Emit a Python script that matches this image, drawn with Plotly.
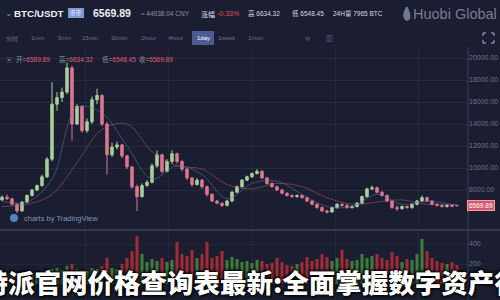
import plotly.graph_objects as go

# ---------------- data ----------------
idx = list(range(92))
open_ = [7100, 7350, 7200, 6700, 6100, 6900, 7500, 8000, 8400, 9200,
         10800, 15800, 16400, 16900, 19100, 14000, 15600, 13400, 14200, 16200,
         16600, 14000, 11200, 11900, 12100, 11100, 10100, 8300, 7400, 8400,
         8700, 10200, 11200, 9700, 10600, 11300, 10600, 9900, 9100, 8500,
         8900, 8300, 7600, 7000, 6800, 6600, 7000, 7800, 8300, 8900,
         9200, 9500, 9700, 9100, 8600, 8300, 8000, 7700, 7500, 7400,
         7500, 7300, 7000, 6700, 6400, 6100, 6000, 6400, 6700, 6600,
         6400, 6500, 6800, 7400, 8100, 8200, 7800, 7500, 7000, 6400,
         6300, 6500, 6400, 6700, 7000, 7300, 7000, 6700, 6600, 6500,
         6600, 6589.89]
close = [7350, 7200, 6700, 6100, 6900, 7500, 8000, 8400, 9200, 10800,
         15800, 16400, 16900, 19100, 14000, 15600, 13400, 14200, 16200, 16600,
         14000, 11200, 11900, 12100, 11100, 10100, 8300, 7400, 8400, 8700,
         10200, 11200, 9700, 10600, 11300, 10600, 9900, 9100, 8500, 8900,
         8300, 7600, 7000, 6800, 6600, 7000, 7800, 8300, 8900, 9200,
         9500, 9700, 9100, 8600, 8300, 8000, 7700, 7500, 7400, 7500,
         7300, 7000, 6700, 6400, 6100, 6000, 6400, 6700, 6600, 6400,
         6500, 6800, 7400, 8100, 8200, 7800, 7500, 7000, 6400, 6300,
         6500, 6400, 6700, 7000, 7300, 7000, 6700, 6600, 6500, 6600,
         6500, 6569.89]
high = [7500, 7600, 7300, 6800, 7000, 7600, 8100, 8500, 9400, 11000,
        17800, 16900, 17300, 19600, 19300, 15800, 15700, 14500, 16500, 17200,
        16700, 14200, 12300, 12400, 12200, 11200, 10200, 8500, 8600, 8900,
        10400, 11600, 11300, 10800, 11600, 11400, 10700, 10000, 9200, 9100,
        9000, 8400, 7700, 7100, 6900, 7100, 7900, 8400, 9000, 9300,
        9600, 9900, 9800, 9200, 8700, 8400, 8100, 7800, 7600, 7600,
        7600, 7400, 7100, 6800, 6500, 6200, 6500, 6800, 6800, 6700,
        6600, 6900, 7500, 8200, 8400, 8300, 7900, 7600, 7100, 6600,
        6600, 6600, 6800, 7100, 7500, 7400, 7100, 6800, 6700, 6700,
        6700, 6634.32]
low = [7000, 7100, 6600, 5900, 6000, 6800, 7400, 7900, 8300, 9100,
       10600, 15200, 16000, 16700, 12500, 13900, 13200, 13200, 14000, 15800,
       13800, 9400, 11000, 11700, 10900, 9900, 8100, 6100, 7300, 8300,
       8600, 10000, 9500, 9600, 10400, 10400, 9700, 8900, 8300, 8400,
       8100, 7400, 6900, 6700, 6450, 6500, 6900, 7700, 8200, 8800,
       9100, 9400, 9000, 8500, 8200, 7900, 7600, 7400, 7300, 7300,
       7200, 6900, 6600, 6300, 6000, 5850, 5950, 6300, 6500, 6300,
       6300, 6400, 6700, 7300, 8000, 7700, 7400, 6900, 6300, 6100,
       6200, 6300, 6300, 6600, 6900, 6900, 6600, 6500, 6400, 6400,
       6450, 6548.45]
volume = [60, 80, 120, 90, 70, 80, 90, 100, 110, 130,
          150, 160, 140, 180, 200, 150, 140, 130, 160, 150,
          180, 260, 160, 150, 200, 260, 330, 480, 300, 220,
          250, 230, 260, 220, 240, 420, 300, 280, 340, 260,
          300, 420, 260, 280, 330, 240, 270, 250, 220, 230,
          210, 240, 230, 200, 210, 260, 220, 190, 180, 200,
          220, 270, 230, 250, 300, 270, 230, 260, 340, 250,
          230, 240, 300, 260, 280, 300, 260, 240, 320, 280,
          220, 250, 240, 300, 450, 330, 260, 230, 210, 200,
          220, 190]
ma_idx = [0, 5, 10, 15, 20, 25, 30, 35, 40, 45, 50, 55, 60, 65, 70, 75, 80, 85, 91]
ma_fast = [7000, 6900, 9000, 15500, 15000, 12000, 9000, 10200, 9400, 7200,
           8600, 8800, 7600, 6500, 6500, 7600, 6700, 7000, 6600]
ma_slow = [6500, 6700, 7600, 10500, 13500, 14000, 11500, 10200, 9900, 8500,
           8100, 8600, 8300, 7300, 6700, 6900, 7100, 6700, 6700]
price_ticks = [8000, 10000, 12000, 14000, 16000, 18000, 20000]
vol_ticks = [200, 400]

title_text = "比特派官网价格查询表最新:全面掌握数字资产行情"
symbol = "BTC/USDT"
last_price = "6569.89"
cny = "≈ 44938.04 CNY"
change = "-0.33%"
hi24 = "6634.32"
lo24 = "6548.45"
vol24 = "7965 BTC"
intervals = ["分时", "1min", "5min", "15min", "30min", "1hour", "4hour", "1day", "1week", "1mon"]
interval_x = [12, 37, 64, 90, 119, 148, 175, 203, 227, 255]

# ---------------- helpers ----------------
W, H = 500, 300
def px(x): return x / W
def py(y): return 1 - y / H

BG = "#1b1e30"
UP = "#a8cf9c"
DN = "#dc7790"
LAT = "Liberation Sans, Noto Sans CJK SC"
CJK = "Noto Sans CJK SC"

fig = go.Figure()
fig.add_trace(go.Scatter(x=ma_idx, y=ma_slow, mode="lines", line=dict(color="rgba(190,90,120,0.5)", width=1, shape="spline"),
                         xaxis="x", yaxis="y", showlegend=False, hoverinfo="skip"))
fig.add_trace(go.Scatter(x=ma_idx, y=ma_fast, mode="lines", line=dict(color="rgba(100,120,190,0.5)", width=1, shape="spline"),
                         xaxis="x", yaxis="y", showlegend=False, hoverinfo="skip"))
fig.add_trace(go.Candlestick(
    x=idx, open=open_, high=high, low=low, close=close,
    increasing=dict(line=dict(color=UP, width=1), fillcolor=UP),
    decreasing=dict(line=dict(color=DN, width=1), fillcolor=DN),
    whiskerwidth=0, xaxis="x", yaxis="y", showlegend=False, hoverinfo="skip"))
vcol = ["rgba(70,150,60,0.8)" if c >= o else "rgba(190,45,55,0.85)" for o, c in zip(open_, close)]
fig.add_trace(go.Bar(x=idx, y=volume, marker=dict(color=vcol, line=dict(width=0)), width=0.6,
                     xaxis="x", yaxis="y2", showlegend=False, hoverinfo="skip"))

annotations = []
def txt(x, y, s, size, color, family=LAT, anchor="left", weight="normal", **kw):
    annotations.append(dict(x=px(x), y=py(y), xref="paper", yref="paper", text=s, showarrow=False,
                            xanchor=anchor, yanchor="middle",
                            font=dict(size=size, color=color, family=family, weight=weight), **kw))

# header row
txt(3, 13, "⌄", 9, "#8d92a8")
txt(12, 13, symbol, 9.8, "#eef0f6", weight="bold")
txt(91, 13, last_price, 10.5, "#eef0f6", weight="bold")
txt(139, 14, cny, 6.5, "#8d92a8")
txt(199, 14, "涨幅", 7, "#d6d9e4", family=CJK)
txt(215, 14, change, 7, "#e0485e")
txt(246, 14, "高 " + hi24, 6.5, "#d6d9e4")
txt(290, 14, "低 " + lo24, 6.5, "#d6d9e4")
txt(331, 14, "24H量 " + vol24, 6.5, "#d6d9e4")
txt(411, 14, "Huobi Global", 14.5, "rgba(150,158,185,0.75)")
txt(76, 13, "币币", 5.5, "#f4f6ff", family=CJK, anchor="center")
# toolbar
for name, xx in zip(intervals, interval_x):
    txt(xx, 38, name, 6, "#ffffff" if name == "1day" else "#6c7190", family=LAT if name != "分时" else CJK, anchor="center")
txt(307, 38, "○", 8, "#aab0c8", anchor="center")
txt(329, 38, "▥", 7, "#7c83a8", anchor="center")
# legend row
txt(4, 60, "▣", 6, "#6c7190")
legend_items = [("开=", "6589.89", 14), ("高=", "6634.32", 57), ("低=", "6548.45", 100), ("收=", last_price, 137)]
for lab, val, xx in legend_items:
    txt(xx, 60, f"<span style='color:#8d92a8'>{lab}</span>{val}", 6.5, "#e0587a")
# watermark
txt(22, 218, "charts by TradingView", 7.5, "#7f95b8")
# last price tag
annotations.append(dict(x=px(481), y=close[-1], xref="paper", yref="y", text=last_price, showarrow=False,
                        xanchor="center", yanchor="middle", bgcolor="#d9566b", bordercolor="#f2a0ae",
                        borderwidth=1, borderpad=1, font=dict(size=6.5, color="#ffffff", family=LAT)))
# big overlay title
annotations.append(dict(x=px(-47), y=py(281), xref="paper", yref="paper", text=title_text, showarrow=False,
                        xanchor="left", yanchor="middle",
                        font=dict(size=26.5, color="#ffffff", family=CJK, weight=900,
                                  shadow="1px 1px 2px #000, -1px -1px 2px #000, 0px 0px 4px #000")))

shapes = [
    dict(type="line", xref="paper", yref="paper", x0=px(468), x1=px(468), y0=py(47), y1=0,
         line=dict(color="#3a3e56", width=1)),
    dict(type="line", xref="paper", yref="paper", x0=0, x1=1, y0=py(230), y1=py(230),
         line=dict(color="#3c4058", width=1.5)),
    dict(type="rect", xref="paper", yref="paper", x0=px(192), x1=px(214), y0=py(31), y1=py(45),
         fillcolor="#4d5a94", line=dict(width=0), layer="below"),
    dict(type="rect", xref="paper", yref="paper", x0=px(68), x1=px(84), y0=py(8), y1=py(18),
         fillcolor="#7f98da", line=dict(width=0), layer="below"),
    dict(type="circle", xref="paper", yref="paper", x0=px(10), x1=px(18), y0=py(214), y1=py(222),
         fillcolor="#4f86c0", line=dict(width=0)),
    dict(type="path", xref="paper", yref="paper",
         path=f"M {px(407)},{py(6)} C {px(402)},{py(12)} {px(402)},{py(20)} {px(407)},{py(21)} "
              f"C {px(412)},{py(20)} {px(411)},{py(13)} {px(407)},{py(6)} Z",
         fillcolor="rgba(150,158,185,0.7)", line=dict(width=0)),
]
# fullscreen icon corners
for (cx, cy, dx, dy) in [(483, 33, 1, 1), (494, 33, -1, 1), (483, 43, 1, -1), (494, 43, -1, -1)]:
    shapes.append(dict(type="path", xref="paper", yref="paper",
                       path=f"M {px(cx)},{py(cy + 3*dy)} L {px(cx)},{py(cy)} L {px(cx + 3*dx)},{py(cy)}",
                       line=dict(color="#aab0c8", width=1)))

fig.update_layout(
    width=W, height=H, margin=dict(l=0, r=0, t=0, b=0),
    paper_bgcolor=BG, plot_bgcolor=BG, showlegend=False, bargap=0.4,
    xaxis=dict(domain=[0, 0.936], range=[-0.4, 93.2], anchor="y2", showticklabels=False,
               tickvals=[16.6, 33.2, 50, 66.6, 83.2], showgrid=True, gridcolor="rgba(255,255,255,0.04)",
               zeroline=False, showline=False, rangeslider=dict(visible=False), ticks=""),
    yaxis=dict(domain=[py(230), py(48)], range=[4364, 20909], side="right", anchor="x",
               tickvals=price_ticks, tickformat=".2f", tickfont=dict(size=7, color="#6d7290", family=LAT),
               showgrid=True, gridcolor="rgba(255,255,255,0.05)", zeroline=False, showline=False, ticks=""),
    yaxis2=dict(domain=[0, py(230)], range=[-160, 540], side="right", anchor="x",
                tickvals=vol_ticks, tickfont=dict(size=7, color="#6d7290", family=LAT),
                showgrid=True, gridcolor="rgba(255,255,255,0.04)", zeroline=False, showline=False, ticks=""),
    annotations=annotations, shapes=shapes,
)

fig.write_html("out.html")
